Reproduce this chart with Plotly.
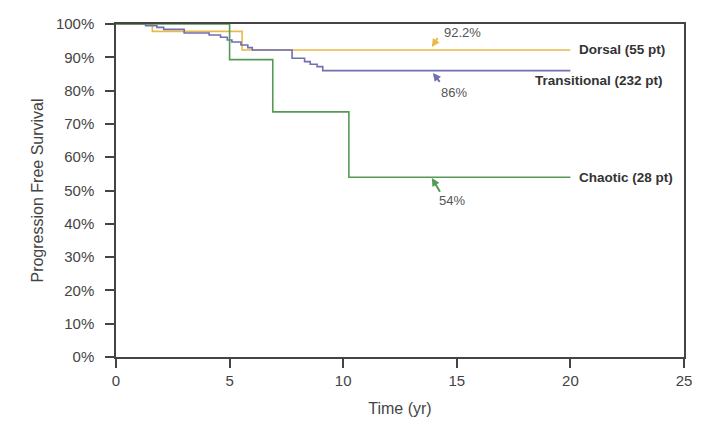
import plotly.graph_objects as go

# Kaplan-Meier step curves (time in years, survival in %)
dorsal_t = [0, 1.6, 5.55, 20]
dorsal_s = [100, 97.8, 92.2, 92.2]

transitional_t = [0, 1.3, 1.8, 2.1, 3.0, 4.1, 4.6, 4.9, 5.1, 5.5, 5.8, 6.0,
                  7.75, 8.3, 8.55, 8.85, 9.1, 20]
transitional_s = [100, 99.5, 99.0, 98.4, 97.3, 96.7, 96.0, 95.2, 94.6, 93.7, 92.9, 92.2,
                  89.7, 88.7, 87.9, 87.2, 86.0, 86.0]

chaotic_t = [0, 5.0, 6.9, 10.25, 20]
chaotic_s = [100, 89.3, 73.6, 54.0, 54.0]

y_ticks = list(range(0, 101, 10))
y_labels = [f'{v}%' for v in y_ticks]
x_ticks = [0, 5, 10, 15, 20, 25]

ORANGE = '#E9B949'
PURPLE = '#6F6FB2'
GREEN = '#549A55'
AXIS = '#444444'


def main() -> None:
    fig = go.Figure()

    for t, s, color in [(dorsal_t, dorsal_s, ORANGE),
                        (transitional_t, transitional_s, PURPLE),
                        (chaotic_t, chaotic_s, GREEN)]:
        fig.add_trace(go.Scatter(x=t, y=s, mode='lines', line_shape='hv',
                                 line=dict(color=color, width=1.6), showlegend=False))

    # series labels at the right end
    lab_font = dict(family='Liberation Sans, Arial', size=13.5, color='#333333')
    fig.add_annotation(x=20.3, y=92.2, text='<b>Dorsal (55 pt)</b>', showarrow=False,
                       xanchor='left', font=lab_font)
    fig.add_annotation(x=24.16, y=82.9, text='<b>Transitional (232 pt)</b>', showarrow=False,
                       xanchor='right', font=lab_font)
    fig.add_annotation(x=20.3, y=54.0, text='<b>Chaotic (28 pt)</b>', showarrow=False,
                       xanchor='left', font=lab_font)

    # arrows pointing at the 20-year values
    for tip, tail, color in [((13.9, 93.1), (14.2, 96.2), ORANGE),
                             ((13.95, 85.3), (14.3, 82.2), PURPLE),
                             ((13.9, 53.75), (14.3, 49.2), GREEN)]:
        fig.add_annotation(x=tip[0], y=tip[1], ax=tail[0], ay=tail[1],
                           axref='x', ayref='y', text='', showarrow=True,
                           arrowhead=2, arrowsize=0.8, arrowwidth=2, arrowcolor=color)

    val_font = dict(family='Liberation Sans, Arial', size=13, color='#555555')
    fig.add_annotation(x=15.23, y=97.3, text='92.2%', showarrow=False, font=val_font)
    fig.add_annotation(x=14.86, y=79.3, text='86%', showarrow=False, font=val_font)
    fig.add_annotation(x=14.8, y=47.1, text='54%', showarrow=False, font=val_font)

    # page body has an 8px margin, so the figure is sized to fit inside the window
    fig.update_layout(
        width=701, height=424,
        margin=dict(l=108, r=25, t=16, b=75),
        plot_bgcolor='white', paper_bgcolor='white',
        font=dict(family='Liberation Sans, Arial', size=15, color='#444444'),
    )
    fig.update_xaxes(
        range=[0, 25], tickvals=x_ticks, showgrid=False, zeroline=False, automargin=False,
        showline=True, linecolor=AXIS, linewidth=1.5, mirror=True,
        ticks='outside', ticklen=9, tickcolor=AXIS, tickwidth=1.5,
        title=dict(text='Time (yr)', font=dict(size=16), standoff=15),
    )
    fig.update_yaxes(
        range=[0, 100], tickvals=y_ticks, ticktext=y_labels, showgrid=False, zeroline=False,
        automargin=False, ticklabelstandoff=8,
        showline=True, linecolor=AXIS, linewidth=1.5, mirror=True,
        ticks='outside', ticklen=9, tickcolor=AXIS, tickwidth=1.5,
        title=dict(text='Progression Free Survival', font=dict(size=16), standoff=8),
    )

    fig.write_html('out.html')


if __name__ == '__main__':
    main()
